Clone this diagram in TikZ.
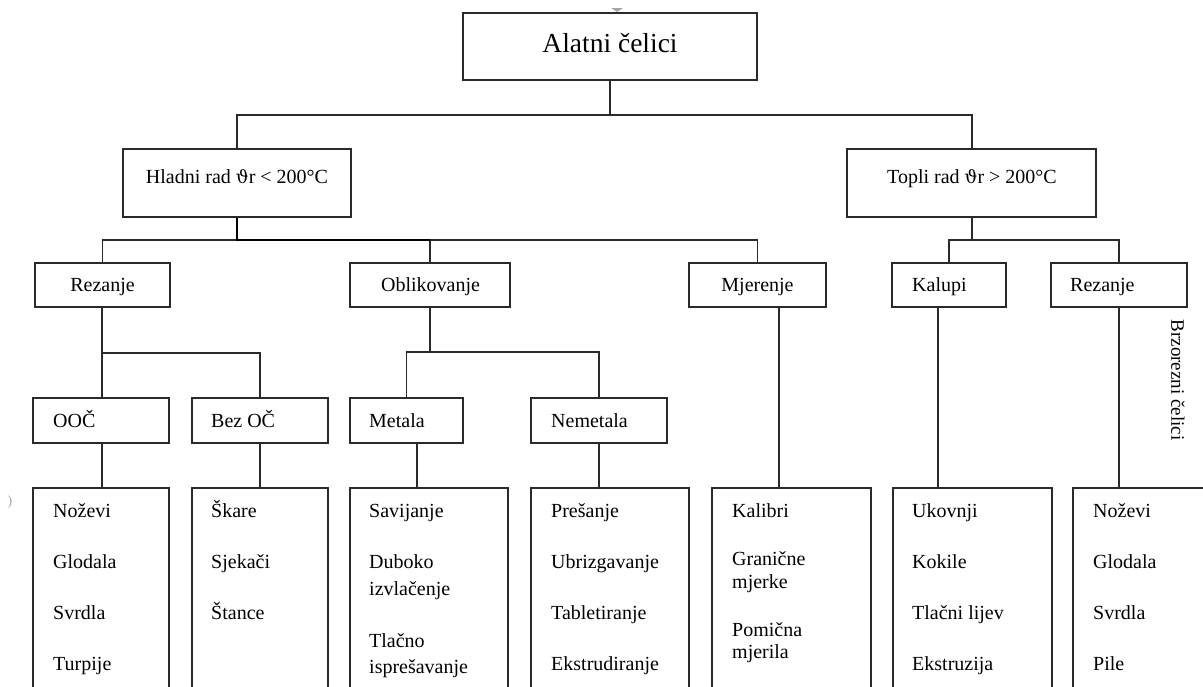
\documentclass[tikz,border=0pt]{standalone}
\usepackage{fontspec}
\setmainfont{Liberation Serif}
\newfontfamily\symfont{DejaVu Serif}
\definecolor{ln}{HTML}{2A2A2A}
\begin{document}
\begin{tikzpicture}[x=1pt,y=-1pt,
  box/.style={draw=ln, line width=1.6pt, inner sep=0pt, rectangle},
  conn/.style={draw=ln, line width=1.6pt},
  thickconn/.style={draw=black, line width=2.6pt},
  txt/.style={inner sep=0pt, font=\fontsize{20}{24}\selectfont, text=black},
  bigtxt/.style={inner sep=0pt, font=\fontsize{27.5}{32}\selectfont, text=black}]
\useasboundingbox (0,0) rectangle (1203,686);
\fill[white] (0,0) rectangle (1203,686);
\begin{scope}
\clip (0,0) rectangle (1203,686);
% top
\node[box, minimum width=294pt, minimum height=67pt] (alat) at (610,46.5) {};
\node[bigtxt, anchor=base] (alatT) at (610,52) {Alatni čelici};
% level 1
\node[box, minimum width=228pt, minimum height=68pt] (hladni) at (237,183) {};
\node[txt, anchor=base] (hladniT) at (237,183) {Hladni rad {\symfont\fontsize{18}{22}\selectfont ϑ}r < 200°C};
\node[box, minimum width=249pt, minimum height=68pt] (topli) at (971.5,183) {};
\node[txt, anchor=base] (topliT) at (972,183) {Topli rad {\symfont\fontsize{18}{22}\selectfont ϑ}r > 200°C};
% level 2
\node[box, minimum width=135pt, minimum height=44pt] (rezL) at (102.5,285) {};
\node[txt, anchor=base] (rezLT) at (102.5,291.5) {Rezanje};
\node[box, minimum width=160pt, minimum height=44pt] (oblik) at (430,285) {};
\node[txt, anchor=base] (oblikT) at (430.5,291.5) {Oblikovanje};
\node[box, minimum width=137pt, minimum height=44pt] (mjer) at (757.5,285) {};
\node[txt, anchor=base] (mjerT) at (757.5,291.5) {Mjerenje};
\node[box, minimum width=114pt, minimum height=44pt] (kalupi) at (949,285) {};
\node[txt, anchor=base west] (kalupiT) at (912,291.5) {Kalupi};
\node[box, minimum width=136pt, minimum height=44pt] (rezR) at (1119,285) {};
\node[txt, anchor=base west] (rezRT) at (1070,291.5) {Rezanje};
% level 3
\node[box, minimum width=136pt, minimum height=45pt] (ooc) at (101,420.5) {};
\node[txt, anchor=base west] (oocT) at (53,427) {OOČ};
\node[box, minimum width=136pt, minimum height=45pt] (bezoc) at (260,420.5) {};
\node[txt, anchor=base west] (bezocT) at (211,427) {Bez OČ};
\node[box, minimum width=113pt, minimum height=45pt] (metala) at (406.5,420.5) {};
\node[txt, anchor=base west] (metalaT) at (369,427) {Metala};
\node[box, minimum width=136pt, minimum height=45pt] (nemet) at (599,420.5) {};
\node[txt, anchor=base west] (nemetT) at (551,427) {Nemetala};
% lists (open at the bottom edge)
\node[box, minimum width=136pt, minimum height=232pt] (ooclist) at (101,604) {};
\node[box, minimum width=136pt, minimum height=232pt] (bezlist) at (260,604) {};
\node[box, minimum width=158pt, minimum height=232pt] (metlist) at (429,604) {};
\node[box, minimum width=158pt, minimum height=232pt] (nemlist) at (610,604) {};
\node[box, minimum width=159pt, minimum height=232pt] (kallist) at (791.5,604) {};
\node[box, minimum width=159pt, minimum height=232pt] (kaplist) at (972.5,604) {};
\node[box, minimum width=177pt, minimum height=232pt] (rezlist) at (1161.5,604) {};
\foreach \t/\y [count=\i] in {Noževi/517, Glodala/568, Svrdla/619, Turpije/670}
  \node[txt, anchor=base west] (ca\i) at (53,\y) {\t};
\foreach \t/\y [count=\i] in {Škare/517, Sjekači/568, Štance/619}
  \node[txt, anchor=base west] (cb\i) at (211,\y) {\t};
\foreach \t/\y [count=\i] in {Savijanje/517, Duboko/568, izvlačenje/595, Tlačno/647, isprešavanje/673}
  \node[txt, anchor=base west] (cc\i) at (369,\y) {\t};
\foreach \t/\y [count=\i] in {Prešanje/517, Ubrizgavanje/568, Tabletiranje/619, Ekstrudiranje/670}
  \node[txt, anchor=base west] (cd\i) at (551,\y) {\t};
\foreach \t/\y [count=\i] in {Kalibri/517, Granične/565, mjerke/588, Pomična/636, mjerila/658}
  \node[txt, anchor=base west] (ce\i) at (732,\y) {\t};
\foreach \t/\y [count=\i] in {Ukovnji/517, Kokile/568, Tlačni lijev/619, Ekstruzija/670}
  \node[txt, anchor=base west] (cf\i) at (912,\y) {\t};
\foreach \t/\y [count=\i] in {Noževi/517, Glodala/568, Svrdla/619, Pile/670}
  \node[txt, anchor=base west] (cg\i) at (1093,\y) {\t};
% side label
\node[txt, rotate=-90, font=\fontsize{19}{22}\selectfont] (brz) at (1178,380) {Brzorezni čelici};
% connectors
\coordinate (b1) at (610,115);
\draw[conn] (alat.south) -- (b1) -| (hladni.north);
\draw[conn] (b1) -| ([xshift=0.5pt]topli.north);
\coordinate (b2) at (237,240);
\draw[conn] (b2) -| (rezL.north);
\draw[conn] (b2 -| oblik.north) -- (oblik.north);
\draw[conn] (b2 -| oblik.north) -| (mjer.north);
\draw[thickconn] (hladni.south) -- (b2) -- (b2 -| oblik.north);
\coordinate (b3) at (972,240);
\draw[conn] ([xshift=0.5pt]topli.south) -- (b3) -| (kalupi.north);
\draw[conn] (b3) -| (rezR.north);
\coordinate (b4) at (102,353);
\draw[conn] ([xshift=-0.5pt]rezL.south) -- ([xshift=1pt]ooc.north);
\draw[conn] (b4) -| (bezoc.north);
\coordinate (b5) at (430,352);
\draw[conn] (oblik.south) -- (b5);
\draw[conn] (metala.north) -- (metala.north |- b5) -| (nemet.north);
\draw[conn] ([xshift=1pt]ooc.south) -- ([xshift=1pt]ooclist.north);
\draw[conn] (bezoc.south) -- (bezlist.north);
\draw[conn] ([xshift=10.5pt]metala.south) -- ([xshift=-12pt]metlist.north);
\draw[conn] (nemet.south) -- ([xshift=-11pt]nemlist.north);
\draw[conn] ([xshift=21.5pt]mjer.south) -- ([xshift=-12.5pt]kallist.north);
\draw[conn] ([xshift=-11pt]kalupi.south) -- ([xshift=-34.5pt]kaplist.north);
\draw[conn] (rezR.south) -- ([xshift=-42.5pt]rezlist.north);
% scan marks
\fill[gray!70] (611,8) -- (623,8) -- (617,12) -- cycle;
\node[txt, text=gray!70, font=\fontsize{14}{16}\selectfont] (mark) at (10,502) {)};
\end{scope}
\end{tikzpicture}
\end{document}
